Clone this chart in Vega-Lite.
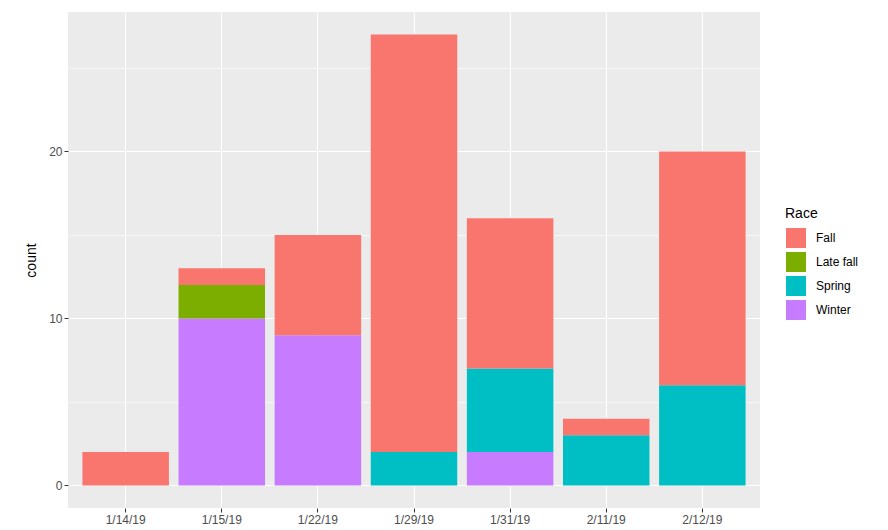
{
  "$schema": "https://vega.github.io/schema/vega-lite/v6.json",
  "width": 692,
  "height": 496,
  "autosize": {"type": "none"},
  "padding": {"left": 68, "top": 12, "right": 128, "bottom": 22},
  "background": "white",
  "config": {
    "view": {"fill": "#EBEBEB", "stroke": null},
    "font": "Liberation Sans"
  },
  "data": {
    "values": [
      {"date": "1/14/19", "Race": "Fall", "count": 2},
      {"date": "1/15/19", "Race": "Winter", "count": 10},
      {"date": "1/15/19", "Race": "Late fall", "count": 2},
      {"date": "1/15/19", "Race": "Fall", "count": 1},
      {"date": "1/22/19", "Race": "Winter", "count": 9},
      {"date": "1/22/19", "Race": "Fall", "count": 6},
      {"date": "1/29/19", "Race": "Spring", "count": 2},
      {"date": "1/29/19", "Race": "Fall", "count": 25},
      {"date": "1/31/19", "Race": "Winter", "count": 2},
      {"date": "1/31/19", "Race": "Spring", "count": 5},
      {"date": "1/31/19", "Race": "Fall", "count": 9},
      {"date": "2/11/19", "Race": "Spring", "count": 3},
      {"date": "2/11/19", "Race": "Fall", "count": 1},
      {"date": "2/12/19", "Race": "Spring", "count": 6},
      {"date": "2/12/19", "Race": "Fall", "count": 14}
    ]
  },
  "mark": {"type": "bar"},
  "encoding": {
    "x": {
      "field": "date",
      "type": "nominal",
      "sort": ["1/14/19", "1/15/19", "1/22/19", "1/29/19", "1/31/19", "2/11/19", "2/12/19"],
      "scale": {"paddingInner": 0.1, "paddingOuter": 0.15},
      "axis": {
        "title": null,
        "labelAngle": 0,
        "labelFont": "Liberation Sans",
        "labelFontSize": 12,
        "labelColor": "#4D4D4D",
        "labelPadding": 2,
        "tickColor": "#333333",
        "tickSize": 4,
        "domain": false,
        "grid": true,
        "gridColor": "white",
        "gridWidth": 1.1,
        "bandPosition": 0.5
      }
    },
    "y": {
      "field": "count",
      "type": "quantitative",
      "aggregate": "sum",
      "stack": "zero",
      "scale": {"domain": [-1.35, 28.35], "nice": false, "zero": false},
      "axis": {
        "title": "count",
        "titleFont": "Liberation Sans",
        "titleFontSize": 14,
        "titleFontWeight": "normal",
        "titleColor": "black",
        "titlePadding": 10,
        "values": [0, 5, 10, 15, 20, 25],
        "labelExpr": "datum.value % 10 === 0 ? datum.label : ''",
        "labelFont": "Liberation Sans",
        "labelFontSize": 12,
        "labelColor": "#4D4D4D",
        "labelPadding": 2,
        "tickColor": "#333333",
        "tickSize": 4,
        "tickOpacity": {"condition": {"test": "datum.value % 10 === 0", "value": 1}, "value": 0},
        "domain": false,
        "grid": true,
        "gridColor": "white",
        "gridWidth": {"condition": {"test": "datum.value % 10 === 0", "value": 1.1}, "value": 0.55}
      }
    },
    "color": {
      "field": "Race",
      "type": "nominal",
      "scale": {
        "domain": ["Fall", "Late fall", "Spring", "Winter"],
        "range": ["#F8766D", "#7CAE00", "#00BFC4", "#C77CFF"]
      },
      "legend": {
        "orient": "none",
        "legendX": 717,
        "legendY": 195,
        "title": "Race",
        "titleFont": "Liberation Sans",
        "titleFontSize": 14,
        "titleFontWeight": "normal",
        "titleColor": "black",
        "titlePadding": 6,
        "labelFont": "Liberation Sans",
        "labelFontSize": 12,
        "labelColor": "black",
        "labelOffset": 9,
        "symbolType": "square",
        "symbolSize": 441,
        "symbolStrokeColor": "white",
        "symbolStrokeWidth": 1,
        "symbolOpacity": 1,
        "rowPadding": -5
      }
    },
    "order": {"field": "Race", "sort": "descending"}
  }
}
